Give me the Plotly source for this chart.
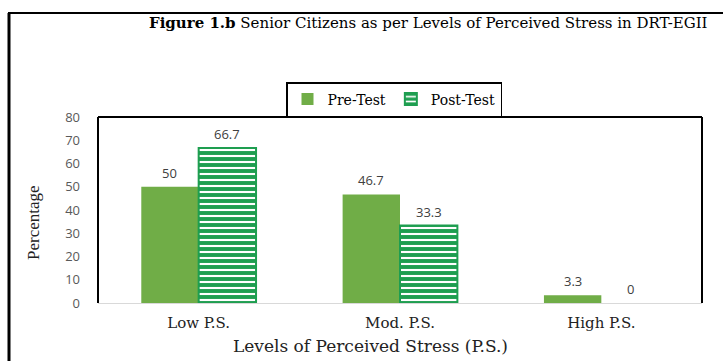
import plotly.graph_objects as go

categories = ["Low P.S.", "Mod. P.S.", "High P.S."]
pre_test = [50, 46.7, 3.3]
post_test = [66.7, 33.3, 0]
y_ticks = [0, 10, 20, 30, 40, 50, 60, 70, 80]

W, H = 723, 361
L, R, T, B = 98, 702, 117, 303
PW, PH = R - L, B - T

def px(xp):
    return (xp - L) / PW

def py(yp):
    return (B - yp) / PH

PRE = "#70ad47"
POST = "#1e9e50"
SERIF = "DejaVu Serif"
TIMES = "Liberation Serif"
SANS = "Open Sans"

fig = go.Figure()
fig.add_trace(go.Bar(name="Pre-Test", x=categories, y=pre_test,
                     marker=dict(color=PRE, line=dict(width=0))))
fig.add_trace(go.Bar(name="Post-Test", x=categories, y=post_test,
                     marker=dict(color=POST,
                                 line=dict(color=POST, width=[2 if v > 0 else 0 for v in post_test]),
                                 pattern=dict(shape="-", fgcolor="white", bgcolor=POST,
                                              size=6, solidity=0.35, fillmode="replace"))))

bargap = 0.43
bw = (1 - bargap) / 2
ann = []
for i, v in enumerate(pre_test):
    ann.append(dict(x=i - bw / 2, y=v, xref="x", yref="y", text=str(v), showarrow=False,
                    yanchor="bottom", yshift=3, font=dict(family=SANS, size=13, color="#404040")))
for i, v in enumerate(post_test):
    ann.append(dict(x=i + bw / 2, y=v, xref="x", yref="y", text=str(v), showarrow=False,
                    yanchor="bottom", yshift=3, font=dict(family=SANS, size=13, color="#404040")))

ann.append(dict(x=px(428), y=py(23), xref="paper", yref="paper", showarrow=False,
                text="<b>Figure 1.b</b> Senior Citizens as per Levels of Perceived Stress in DRT-EGII",
                font=dict(family=SERIF, size=15, color="black"), xanchor="center", yanchor="middle"))
ann.append(dict(x=px(370), y=py(346), xref="paper", yref="paper", showarrow=False,
                text="Levels of Perceived Stress (P.S.)",
                font=dict(family=SERIF, size=17, color="#222"), xanchor="center", yanchor="middle"))
ann.append(dict(x=px(33), y=py(223), xref="paper", yref="paper", showarrow=False,
                text="Percentage", textangle=-90,
                font=dict(family=TIMES, size=17, color="#222"), xanchor="center", yanchor="middle"))

shapes = [
    dict(type="line", xref="paper", yref="paper", x0=0, x1=1, y0=1, y1=1, line=dict(color="black", width=2)),
    dict(type="line", xref="paper", yref="paper", x0=0, x1=0, y0=0, y1=1, line=dict(color="black", width=2)),
    dict(type="line", xref="paper", yref="paper", x0=1, x1=1, y0=0, y1=1, line=dict(color="black", width=2)),
    dict(type="line", xref="paper", yref="paper", x0=px(9), x1=px(9), y0=py(13), y1=py(361), line=dict(color="black", width=3)),
    dict(type="line", xref="paper", yref="paper", x0=px(8), x1=px(723), y0=py(13), y1=py(13), line=dict(color="black", width=2)),
]

fig.update_layout(
    width=W, height=H,
    margin=dict(l=L, r=W - R, t=T, b=H - B),
    paper_bgcolor="white", plot_bgcolor="white",
    barmode="group", bargap=bargap, bargroupgap=0,
    showlegend=True,
    legend=dict(orientation="h", x=px(286), y=py(82), xanchor="left", yanchor="top",
                bordercolor="black", borderwidth=1.5, bgcolor="white",
                font=dict(family=SERIF, size=14, color="black"),
                itemwidth=30, tracegroupgap=0),
    xaxis=dict(showline=True, linecolor="#d9d9d9", linewidth=1, ticks="",
               ticklabelstandoff=6,
               tickfont=dict(family=SERIF, size=15, color="#222")),
    yaxis=dict(range=[0, 80], tickvals=y_ticks, showgrid=False, zeroline=False, ticks="",
               ticklabelstandoff=17,
               tickfont=dict(family=SANS, size=13, color="#595959")),
    annotations=ann, shapes=shapes,
)

fig.write_html("out.html")
